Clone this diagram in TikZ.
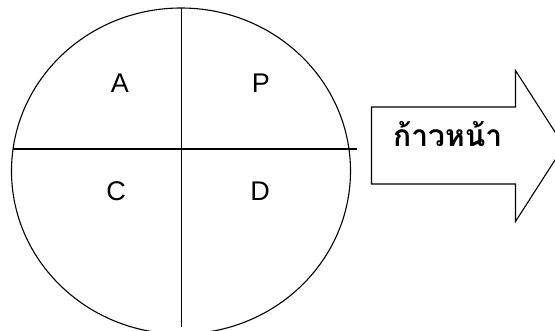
\documentclass[tikz,border=0pt]{standalone}
\usepackage{fontspec}
\setmainfont{Liberation Sans}
\newfontfamily\thaifont[Script=Thai]{Loma}
\usetikzlibrary{shapes.geometric}
\begin{document}
\begin{tikzpicture}[x=1pt,y=-1pt,
  lbl/.style={font=\fontsize{27}{27}\selectfont, inner sep=0pt},
  thin line/.style={line width=1.1pt},
  thick line/.style={line width=1.6pt}]
\useasboundingbox (0,0) rectangle (555,330);
\clip (0,0) rectangle (555,330);
\fill[white] (0,0) rectangle (555,330);
% circle
\node[ellipse, draw, thin line, minimum width=339pt, minimum height=326pt, inner sep=0pt] (circ) at (181,171) {};
\coordinate (vtop) at (181.5,8);
\coordinate (vbot) at (181.5,327);
\coordinate (hl) at (13,149);
\coordinate (hr) at (357,149);
\draw[thick line] (vtop) -- (vbot);
\draw[thin line] (hl) -- (hr);
% letters
\node[lbl] (A) at (120,83) {A};
\node[lbl] (P) at (261,83) {P};
\node[lbl] (C) at (116,191) {C};
\node[lbl] (D) at (260,191) {D};
% arrow
\coordinate (a1) at (371.5,107);
\coordinate (a2) at (515.5,107);
\coordinate (a3) at (515.5,70.5);
\coordinate (a4) at (564,146);
\coordinate (a5) at (515.5,221.5);
\coordinate (a6) at (515.5,184);
\coordinate (a7) at (371.5,184);
\draw[thin line, line join=miter] (a1) -- (a2) -- (a3) -- (a4) -- (a5) -- (a6) -- (a7) -- cycle;
\node[font=\thaifont\bfseries\fontsize{30}{30}\selectfont, inner sep=0pt, anchor=base west] (txt) at (393,146.5) {ก้าวหน้า};
\end{tikzpicture}
\end{document}
